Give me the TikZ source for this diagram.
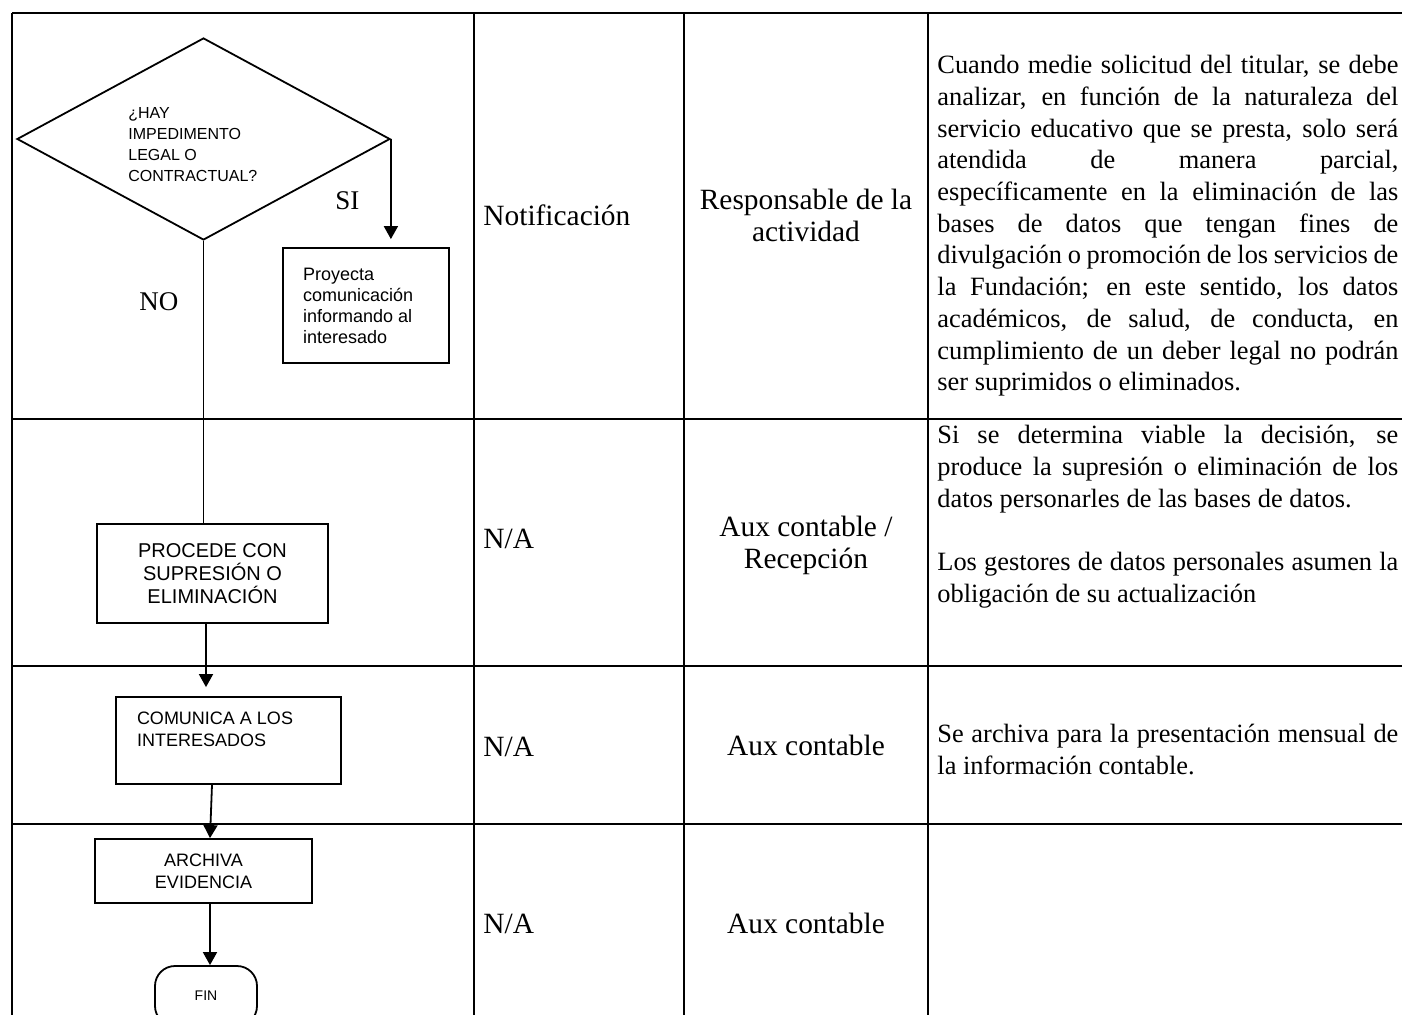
\documentclass[tikz,border=0pt]{standalone}
\usepackage{fontspec}
\setmainfont{Liberation Serif}
\newfontfamily\arialfont{Liberation Sans}
\usetikzlibrary{shapes.geometric, arrows.meta, positioning, calc}
\setlength{\parindent}{0pt}

% one justified line of the description column
\newcommand{\jline}[1]{{\spaceskip=0pt\xspaceskip=0pt\makebox[230.5pt][s]{#1}}}

\begin{document}
\begin{tikzpicture}[
    x=0.5pt, y=-0.5pt,
    plainspace/.style={execute at begin node={\spaceskip=0pt\xspaceskip=0pt}},
    box/.style={rectangle, draw, line width=0.9pt, align=center, inner sep=0pt, plainspace, font=\arialfont\fontsize{9}{11}\selectfont},
    decision/.style={diamond, draw, line width=0.9pt, inner sep=0pt, minimum width=186.5pt, minimum height=101pt},
    terminal/.style={rectangle, draw, line width=0.9pt, rounded corners=10pt, inner sep=0pt, font=\arialfont\fontsize{7}{8}\selectfont},
    arrow/.style={-{Triangle[length=6.5pt, width=7pt]}, line width=0.9pt},
    flow/.style={line width=0.9pt},
    tableline/.style={line width=1.3pt},
    cell/.style={inner sep=0pt, plainspace, font=\fontsize{14.7}{16}\selectfont},
    note/.style={inner sep=0pt, align=left, anchor=north west, text width=230.5pt, plainspace, font=\fontsize{13.2}{15.85}\selectfont},
    tag/.style={inner sep=0pt, anchor=base west, font=\fontsize{13.5}{15}\selectfont}
  ]

  \useasboundingbox (0,0) rectangle (1402,1015);
  \clip (0,0) rectangle (1402,1015);
  \fill[white] (0,0) rectangle (1402,1015);

  % ============ TABLE ============
  \draw[tableline] (12,13) -- (1420,13);
  \draw[tableline] (12,13) -- (12,1030);
  \foreach \x in {474,684,928}
    \draw[tableline] (\x,13) -- (\x,1030);
  \foreach \y in {419,666,824}
    \draw[tableline] (12,\y) -- (1420,\y);

  % ============ FLOWCHART ============
  % Decision
  \node[decision] (dec) at (203.5,139) {};
  \node[anchor=north west, inner sep=0pt, align=left, plainspace, font=\arialfont\fontsize{8}{10.5}\selectfont] (dectext) at (128,107.5) {¿HAY\\IMPEDIMENTO\\LEGAL O\\CONTRACTUAL?};

  % SI branch
  \node[box, minimum width=83pt, minimum height=57.5pt, text width=63pt, align=left, font=\arialfont\fontsize{9}{10.5}\selectfont] (pro) at (366,305.5) {Proyecta\\comunicación\\informando al\\interesado};
  \node[tag] (si) at (335,210) {SI};
  \node[tag] (no) at (139,311) {NO};

  % NO branch
  \node[box, minimum width=115.5pt, minimum height=49.5pt, font=\arialfont\fontsize{10}{11.5}\selectfont] (proc) at (212.5,573.5) {PROCEDE CON\\SUPRESIÓN O\\ELIMINACIÓN};
  \node[box, minimum width=112.5pt, minimum height=43.5pt, text width=91.5pt, align=left] (com) at (228.5,740.5) {COMUNICA A LOS\\INTERESADOS\\~};
  \node[box, minimum width=108.5pt, minimum height=32pt] (arch) at (203.5,871) {ARCHIVA\\EVIDENCIA};
  \node[terminal, minimum width=51pt, minimum height=30pt] (fin) at (206,996) {FIN};

  % Arrows
  \draw[arrow, shorten >=4pt] (dec.east) -- (dec.east |- pro.north);
  \draw[flow] (dec.south) -- (dec.south |- proc.north);
  \draw[arrow, shorten >=4.5pt] ([xshift=-3.25pt]proc.south) -- ([xshift=-3.25pt]proc.south |- com.north);
  \draw[arrow] ([xshift=-8.25pt]com.south) -- ([xshift=3.25pt]arch.north);
  \draw[arrow] ([xshift=3.25pt]arch.south) -- ([xshift=3.25pt]arch.south |- fin.north);

  % ============ ACTIVITY / RESPONSIBLE ============
  \node[cell, anchor=base west] (act1) at (483,226) {Notificación};
  \node[cell, anchor=north, align=center] (resp1) at (806,189) {Responsable de la\\actividad};

  \node[cell, anchor=base west] (act2) at (483,548) {N/A};
  \node[cell, anchor=north, align=center] (resp2) at (806,516) {Aux contable /\\Recepción};

  \node[cell, anchor=base west] (act3) at (483,756) {N/A};
  \node[cell, anchor=base] (resp3) at (806,755) {Aux contable};

  \node[cell, anchor=base west] (act4) at (483,933) {N/A};
  \node[cell, anchor=base] (resp4) at (806,933) {Aux contable};

  % ============ DESCRIPTION ============
  \node[note] (desc1) at (937,55) {%
    \jline{Cuando medie solicitud del titular, se debe}\\
    \jline{analizar, en función de la naturaleza del}\\
    \jline{servicio educativo que se presta, solo será}\\
    \jline{atendida de manera parcial,}\\
    \jline{específicamente en la eliminación de las}\\
    \jline{bases de datos que tengan fines de}\\
    \jline{divulgación o promoción de los servicios de}\\
    \jline{la Fundación; en este sentido, los datos}\\
    \jline{académicos, de salud, de conducta, en}\\
    \jline{cumplimiento de un deber legal no podrán}\\
    ser suprimidos o eliminados.};

  \node[note] (desc2) at (937,425) {%
    \jline{Si se determina viable la decisión, se}\\
    \jline{produce la supresión o eliminación de los}\\
    datos personarles de las bases de datos.\\
    \mbox{}\\
    \jline{Los gestores de datos personales asumen la}\\
    obligación de su actualización};

  \node[note] (desc3) at (937,724) {%
    \jline{Se archiva para la presentación mensual de}\\
    la información contable.};

\end{tikzpicture}
\end{document}
